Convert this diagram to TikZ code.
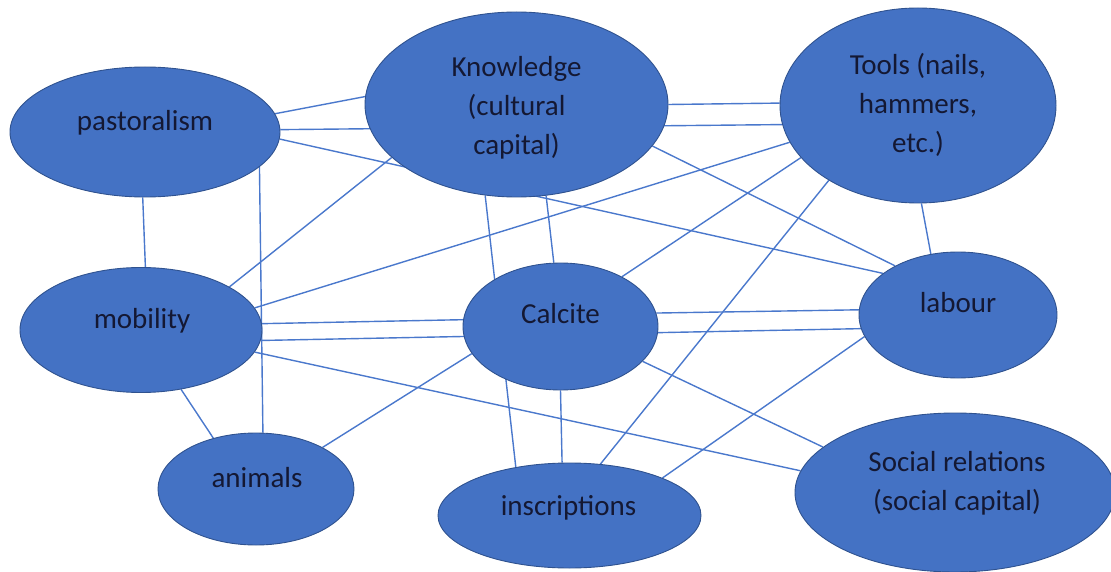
\documentclass[tikz,border=0pt]{standalone}
\usepackage{fontspec}
\setmainfont{Carlito}
\usetikzlibrary{shapes.geometric,backgrounds,calc}
\definecolor{shapefill}{HTML}{4472C4}
\definecolor{shapeedge}{HTML}{2F528F}
\definecolor{linkblue}{HTML}{4A78CC}
\definecolor{labelink}{HTML}{141833}
\tikzset{
  blob/.style={ellipse, draw=shapeedge, line width=0.9pt, fill=shapefill, inner sep=0pt},
  caption/.style={anchor=base, align=center, text=labelink, inner sep=0pt,
    font=\fontsize{29}{39}\selectfont},
  link/.style={draw=linkblue, line width=1.4pt}
}
\begin{document}
\begin{tikzpicture}[x=1pt,y=-1pt]
\useasboundingbox (0,0) rectangle (1111,572);

% concept ellipses
\node[blob, minimum width=270pt, minimum height=130pt] (past) at (145,132) {};
\node[blob, minimum width=303pt, minimum height=185pt] (know) at (516.5,104.5) {};
\node[blob, minimum width=276pt, minimum height=195pt] (tools) at (918,105.5) {};
\node[blob, minimum width=242pt, minimum height=125pt] (mob) at (141,330) {};
\node[blob, minimum width=195pt, minimum height=127pt] (calc) at (560.5,326.5) {};
\node[blob, minimum width=198pt, minimum height=126pt] (lab) at (958,315) {};
\node[blob, minimum width=196pt, minimum height=112pt] (anim) at (256,489) {};
\node[blob, minimum width=263pt, minimum height=105pt] (insc) at (569.5,515.5) {};
\node[blob, minimum width=320pt, minimum height=159pt] (soc) at (955,492.5) {};

% labels (base anchor sits on the last line of a multi-line label)
\node[caption] (past-t) at ($(past.center)+(0,-1)$) {pastoralism};
\node[caption] (know-t) at ($(know.center)+(0,50.5)$) {Knowledge\\(cultural\\capital)};
\node[caption] (tools-t) at ($(tools.center)+(0,47.5)$) {Tools (nails,\\hammers,\\etc.)};
\node[caption] (mob-t) at ($(mob.center)+(1,-2)$) {mobility};
\node[caption] (calc-t) at ($(calc.center)+(0,-3.5)$) {Calcite};
\node[caption] (lab-t) at ($(lab.center)+(0,-3)$) {labour};
\node[caption] (anim-t) at ($(anim.center)+(1,-2)$) {animals};
\node[caption] (insc-t) at ($(insc.center)+(-1,-0.5)$) {inscriptions};
\node[caption] (soc-t) at ($(soc.center)+(2,17.5)$) {Social relations\\(social capital)};

% connectors, drawn beneath the ellipses
\begin{scope}[on background layer]
  \draw[link] (past.8.6) -- (know.177.2);
  \draw[link] (past.1.7) -- (tools.188.9);
  \draw[link] (past.-3.4) -- (lab.151.1);
  \draw[link] (past.268.2) -- (mob.86.3);
  \draw[link] (past.-17.4) -- (anim.83.9);
  \draw[link] (mob.26.1) -- (know.203.3);
  \draw[link] (mob.11.2) -- (tools.196.1);
  \draw[link] (mob.3.3) -- (calc.176.8);
  \draw[link] (mob.-5.7) -- (lab.188.7);
  \draw[link] (mob.-11.4) -- (soc.172.8);
  \draw[link] (mob.-56.5) -- (anim.130.8);
  \draw[link] (anim.32.5) -- (calc.197.1);
  \draw[link] (know.251.4) -- (insc.138.7);
  \draw[link] (know.288.6) -- (calc.96.8);
  \draw[link] (calc.270) -- (insc.98.1);
  \draw[link] (know.-17.2) -- (lab.142.4);
  \draw[link] (know.0.9) -- (tools.179);
  \draw[link] (tools.204.8) -- (calc.39.5);
  \draw[link] (tools.220.7) -- (insc.59.1);
  \draw[link] (tools.272.9) -- (lab.114.1);
  \draw[link] (calc.8.5) -- (lab.177.1);
  \draw[link] (lab.193.6) -- (insc.22.4);
  \draw[link] (calc.-23.4) -- (soc.161.4);
\end{scope}
\end{tikzpicture}
\end{document}
